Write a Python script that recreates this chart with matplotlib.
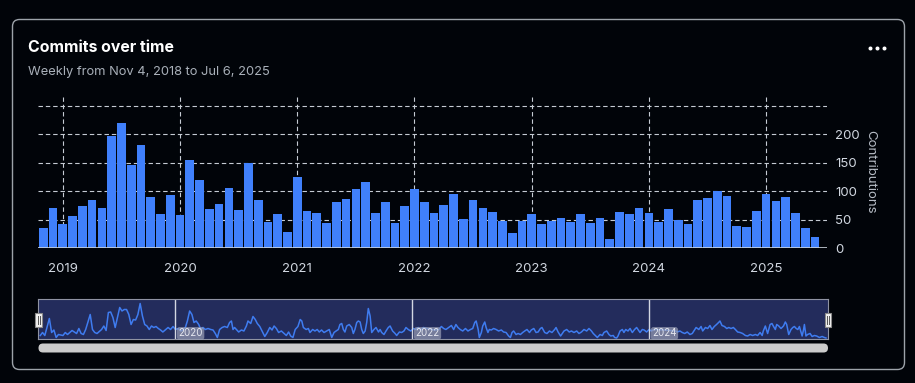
import matplotlib
matplotlib.use("Agg")
import matplotlib.pyplot as plt
from matplotlib.patches import FancyBboxPatch, Rectangle
import numpy as np
import pandas as pd

plt.rcParams['font.family'] = ['Inter', 'DejaVu Sans']

# monthly commits, one bar per month starting Nov 2018
month_start = "2018-11-01"
monthly_commits = [36, 71, 43, 57, 74, 85, 71, 197, 220, 146,
                   181, 90, 60, 94, 58, 155, 120, 69, 78, 106,
                   67, 150, 85, 46, 60, 29, 125, 65, 62, 44,
                   81, 87, 104, 116, 62, 81, 44, 74, 104, 81,
                   62, 76, 95, 51, 85, 71, 64, 48, 27, 48,
                   60, 43, 48, 53, 46, 60, 44, 53, 16, 64,
                   60, 71, 62, 46, 69, 50, 43, 85, 88, 101,
                   92, 39, 37, 65, 95, 83, 90, 62, 36, 20]

# navigator strip: weekly series (weeks since Nov 4 2018)
nav_start = "2018-11-04"
nav_end = "2025-07-06"
nav_weeks = [1, 2, 3, 5, 6, 7, 8, 9, 11, 12, 13, 15, 16, 17, 18, 19, 20, 21, 23, 24,
             25, 26, 28, 29, 30, 31, 32, 33, 34, 36, 37, 38, 39, 40, 41, 42, 43, 44, 45, 46,
             47, 48, 49, 50, 51, 52, 53, 54, 55,
             57.3, 58.4, 59.5, 60.5, 61.7, 62.9, 63.9, 64.9, 65.8, 66.8, 67.8, 68.7, 69.7, 70.8,
             71.7, 72.7, 73.7, 74.9, 76.1, 77.1, 78.1, 79, 80, 81.1, 82.2, 83.4, 84.4, 85.2,
             85.9, 86.6, 87.4, 88.4, 89.6, 90.7, 91.8, 92.5, 93.7, 94.7, 95.7, 96.6, 97.7, 98.7,
             99.9, 101, 102.1, 103.1, 104, 105, 106, 107.2, 108.4, 109.4, 110.4, 111.3, 112.3,
             113.3, 114.5, 115.5,
             116.2, 116.9, 118.1, 119.1, 119.8, 121, 122, 123, 123.9, 124.9, 126, 127.2, 128.3,
             129.4, 130.4, 131.3, 132.3, 133, 133.8, 134.5, 135.2, 136, 137.1, 138.2, 138.9,
             139.6, 140.4, 141.1, 141.9, 142.6, 143.3, 144.1, 144.8, 145.5, 146.3, 147, 148,
             148.9, 150, 150.7, 151.4, 152.4, 153.3, 154.3, 155.1, 156.2, 157.3, 158, 159.2,
             160.2, 161.2, 162.1, 163.1, 164.2, 165.4, 166.5, 167.5, 168.6, 169.8, 171.2, 173.4,
             174.9,
             176.5, 177.7, 178.7, 179.7, 180.9, 182.1, 183.1, 184.1, 185, 186, 187.1, 188.3,
             189.4, 190.5, 191.5, 192.4, 193, 193.9, 194.4, 195.3, 195.9, 196.8, 197.4, 198.2,
             198.8, 199.7, 200.7, 201.8, 202.9, 204.1, 205.1, 206.2, 207.3, 208.1, 208.8, 209.5,
             210.6, 211.5, 212.5, 213.5, 214.4, 215.4, 216.5, 217.3, 218.4, 219.4, 220.3, 221.3,
             222, 223.2, 224.2, 225.3, 226.4, 227.6, 228.2, 229.1, 230.2,
             231.7, 232.9, 234, 235, 236.1, 237.3, 238.3, 239.4, 240.5, 241.7, 242.7, 243.8,
             244.6, 245.7, 246.4, 247.6, 248.6, 249.3, 250.5, 251.5, 252.3, 253.4, 254, 254.9,
             255.5, 256.4, 257.4, 258.1, 258.9, 259.9, 260.8, 261.8, 262.8, 263.7, 264.3, 265.2,
             266.2, 267, 268.1, 269.2, 270.2, 271.4, 275.8, 280.9, 281.6, 282.8, 283.8, 284.9,
             286, 287.2, 288.2,
             289.9, 291.1, 292.1, 292.8, 294, 295, 296, 296.9, 297.9, 298.9, 299.8, 300.4, 301.3,
             302.4, 303.4, 304.3, 305.3, 306.3, 307.2, 308.2, 309.3, 310.4, 311.6, 312.6, 313.7,
             314.8, 316, 317, 318.1, 319, 319.5, 320.4, 321.4, 321.9, 322.5, 323.3, 323.9, 324.8,
             325.4, 326.3, 327.3, 328.4, 329.2, 329.8, 330.7, 331.7, 332.5, 333.2, 334, 334.7,
             335.4, 336.6, 337.2, 337.6, 338.3, 339, 340.1, 341, 342, 343, 344.2, 345.4, 346.4,
             347.1]
nav_commits = [5, 11, 5, 39, 11, 16, 1, 7, 5, 11, 7, 15, 12, 9, 19, 9, 7, 17, 47, 17,
               11, 9, 17, 24, 15, 51, 52, 41, 21, 61, 54, 57, 57, 47, 27, 37, 36, 47, 69, 44,
               27, 24, 17, 24, 21, 23, 19, 16, 12,
               21, 17, 23, 17, 19, 14, 16, 21, 34, 54, 47, 31, 34, 27,
               17, 21, 17, 19, 17, 16, 9, 1, 17, 21, 23, 21, 31, 34,
               17, 21, 17, 12, 16, 14, 24, 34, 29, 43, 37, 29, 23, 14,
               3, 11, 21, 16, 24, 19, 11, 14, 9, 5, 12, 4, 1,
               17, 23, 37,
               34, 21, 17, 19, 11, 17, 14, 17, 12, 16, 11, 14, 17,
               1, 11, 14, 17, 27, 29, 17, 12, 24, 27, 21, 9,
               17, 31, 34, 32, 17, 9, 14, 31, 59, 44, 11, 17,
               21, 12, 17, 11, 7, 14, 21, 24, 14, 9, 5, 12,
               11, 14, 21, 17, 14, 19, 17, 21, 16, 21, 19, 17,
               16,
               17, 23, 19, 17, 21, 25, 17, 27, 21, 17, 14, 19,
               14, 17, 19, 31, 34, 17, 1, 11, 24, 32, 21, 11,
               17, 16, 19, 17, 14, 16, 12, 11, 4, 1, 11, 14,
               7, 9, 7, 11, 14, 17, 11, 16, 19, 11, 12, 19,
               21, 11, 9, 14, 11, 17, 21, 12, 4,
               14, 17, 12, 14, 11, 14, 9, 12, 17, 14, 19, 14,
               9, 4, 1, 7, 5, 11, 14, 7, 4, 5, 1, 0,
               4, 14, 17, 11, 17, 14, 19, 11, 17, 21, 17, 11,
               17, 16, 12, 17, 14, 17, 16, 14, 12, 14, 11, 9,
               12, 7, 9,
               21, 17, 23, 14, 21, 19, 25, 17, 23, 27, 31, 34, 25,
               23, 19, 21, 19, 21, 17, 12, 11, 9, 5, 4, 7,
               5, 7, 5, 11, 5, 14, 24, 9, 17, 27, 29, 24, 17,
               27, 24, 19, 24, 32, 27, 7, 17, 21, 23, 19, 17,
               23, 4, 16, 27, 4, 7, 9, 3, 5, 4, 1, 3, 1,
               0]
nav_years = [2020, 2022, 2024]

y_ticks = [0, 50, 100, 150, 200]
grid_levels = [50, 100, 150, 200, 250]

title = "Commits over time"
subtitle = "Weekly from Nov 4, 2018 to Jul 6, 2025"
y_label = "Contributions"

BG = '#010409'
BLUE = '#4080fb'
GRID = '#c5cbd3'
TXT = '#d1d7e0'
MUTED = '#a9b0b9'

W, H = 915, 383


def px_rect(l, t, r, b):
    return [l / W, 1 - b / H, (r - l) / W, (b - t) / H]


fig = plt.figure(figsize=(W / 100, H / 100), dpi=100, facecolor=BG)

# card + header, drawn in pixel coords
bg = fig.add_axes([0, 0, 1, 1], zorder=0)
bg.set_xlim(0, W)
bg.set_ylim(H, 0)
bg.axis('off')
bg.add_patch(FancyBboxPatch((12.5, 19.5), 892, 350, boxstyle='round,pad=0,rounding_size=7',
                            fc=BG, ec='#9da3aa', lw=1))
bg.text(28.5, 48, title, color='white', fontsize=11.4, fontweight='bold', va='center', ha='left')
bg.text(28.5, 72, subtitle, color=MUTED, fontsize=9.3, va='center', ha='left')
bg.scatter([870, 877, 884], [48, 48, 48], s=3.5, color='white')
bg.text(870, 172, y_label, color='#b7bdc6', fontsize=9.5, rotation=270, ha='center', va='center')

# main bars
ax = fig.add_axes(px_rect(38.4, 97, 826.7, 248.3), zorder=1)
ax.set_facecolor('none')
months = pd.date_range(month_start, periods=len(monthly_commits), freq="MS")
x = np.arange(len(months))
ax.bar(x, monthly_commits, width=0.89, color=BLUE, zorder=3)
ax.set_xlim(-0.5, len(x) + 0.2)
ax.set_ylim(0, 265)
jan = x[months.month == 1]
for lv in grid_levels:
    ax.axhline(lv, color=GRID, lw=0.8, dashes=(4, 2.6), zorder=1)
for j in jan:
    ax.axvline(j, color=GRID, lw=0.8, dashes=(4, 2.6), zorder=1)
ax.axhline(0, color='#c9d1d9', lw=1.2, zorder=4)
for s in ax.spines.values():
    s.set_visible(False)
ax.set_xticks(jan, [str(months[j].year) for j in jan])
ax.set_yticks(y_ticks, [str(v) for v in y_ticks])
ax.yaxis.tick_right()
ax.tick_params(axis='x', length=0, pad=10.5, labelsize=9.5, colors=TXT)
ax.tick_params(axis='y', length=0, pad=6, labelsize=9.5, colors=TXT)

# navigator strip
nav = fig.add_axes(px_rect(38, 299, 828, 339), zorder=2)
start = pd.Timestamp(nav_start)
total_weeks = (pd.Timestamp(nav_end) - start).days / 7
nav.set_facecolor('#232c5c')
nav.plot(nav_weeks, nav_commits, color='#3f7cf0', lw=1.1)
nav.set_xlim(0, total_weeks)
nav.set_ylim(-2, 78)
nav.set_xticks([])
nav.set_yticks([])
for s in nav.spines.values():
    s.set_color('#8f93a3')
    s.set_linewidth(0.8)
for yr in nav_years:
    w = (pd.Timestamp(f"{yr}-01-01") - start).days / 7
    nav.axvline(w, color='#d3d7e2', lw=1)
    nav.text(w + 1.4, 9, str(yr), color='#e6e8f0', fontsize=7, ha='left', va='center',
             bbox=dict(boxstyle='round,pad=0.15,rounding_size=0.3', fc='#9a9fb6', ec='none', alpha=0.7))

# handles + scrollbar on top
top = fig.add_axes([0, 0, 1, 1], zorder=3)
top.set_xlim(0, W)
top.set_ylim(H, 0)
top.axis('off')
top.patch.set_alpha(0)
for hx in (38.5, 827.7):
    top.add_patch(Rectangle((hx - 3.2, 312.5), 6.4, 14.5, fc='#f0f0f0', ec='#8a8a8a', lw=0.8))
    top.plot([hx - 1, hx - 1], [316, 323.5], color='#555555', lw=0.7)
    top.plot([hx + 1, hx + 1], [316, 323.5], color='#555555', lw=0.7)
top.add_patch(FancyBboxPatch((38.5, 343.5), 789.5, 9, boxstyle='round,pad=0,rounding_size=4.5',
                             fc='#cccccc', ec='none'))

fig.savefig('out.png', dpi=100, facecolor=BG)
